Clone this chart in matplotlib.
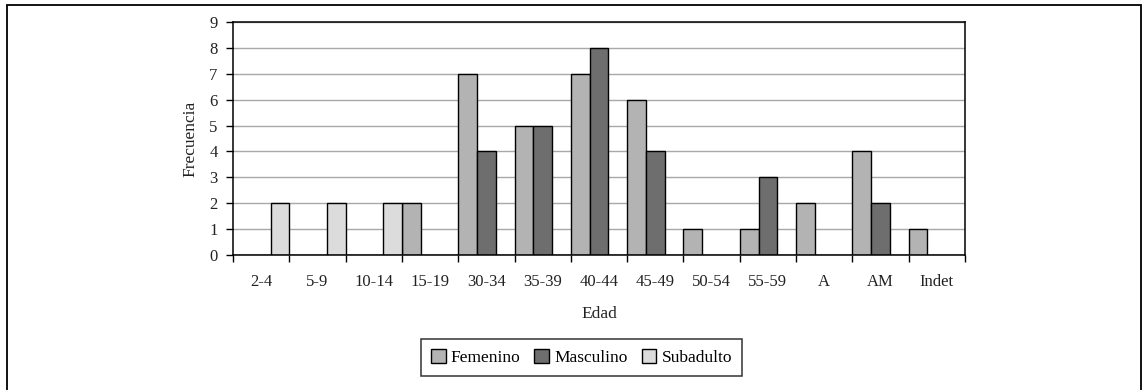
import numpy as np
import matplotlib
matplotlib.use("Agg")
import matplotlib.pyplot as plt
from matplotlib.patches import Rectangle

plt.rcParams['font.family'] = ['Liberation Serif', 'DejaVu Serif']

edades = ["2-4", "5-9", "10-14", "15-19", "30-34", "35-39", "40-44",
          "45-49", "50-54", "55-59", "A", "AM", "Indet"]
femenino = [0, 0, 0, 2, 7, 5, 7, 6, 1, 1, 2, 4, 1]
masculino = [0, 0, 0, 0, 4, 5, 8, 4, 0, 3, 0, 2, 0]
subadulto = [2, 2, 2, 0, 0, 0, 0, 0, 0, 0, 0, 0, 0]

series = [("Femenino", femenino, "#b3b3b3"),
          ("Masculino", masculino, "#6e6e6e"),
          ("Subadulto", subadulto, "#dcdcdc")]

fig = plt.figure(figsize=(11.45, 3.9), dpi=100)
ax = fig.add_axes([233/1145, 1-255/390, 732/1145, 233/390])

x = np.arange(len(edades))
w = 1/3
for k, (nombre, vals, col) in enumerate(series):
    ax.bar(x + k*w, vals, width=w, align='edge', color=col,
           edgecolor='black', linewidth=1, label=nombre, zorder=3)

ax.set_xlim(0, len(edades))
ax.set_ylim(0, 9)
ax.set_yticks(range(10))
ax.yaxis.grid(True, color='#a8a8a8', linewidth=1, zorder=0)

# ticks on category boundaries, labels at centres
ax.set_xticks(np.arange(len(edades)+1))
ax.set_xticklabels([])
ax.set_xticks(x + 0.5, minor=True)
ax.set_xticklabels(edades, minor=True)
ax.tick_params(axis='x', which='major', length=5, width=1, direction='out')
ax.tick_params(axis='x', which='minor', length=0, pad=14, labelsize=12,
               labelcolor='#222222')
ax.tick_params(axis='y', length=5, width=1, direction='out', pad=6,
               labelsize=12, labelcolor='#222222')
for s in ax.spines.values():
    s.set_linewidth(1.1)
    s.set_zorder(4)

ax.set_xlabel("Edad", fontsize=12.5, color='#222222', labelpad=11)
ax.set_ylabel("Frecuencia", fontsize=12.5, color='#222222', labelpad=8)

leg = fig.legend(loc='center', bbox_to_anchor=(581.5/1145, 1-357.5/390),
                 ncol=3, fontsize=12.5, frameon=True, fancybox=False,
                 edgecolor='black', handlelength=0.85, handleheight=0.85,
                 handletextpad=0.3, columnspacing=0.8, borderpad=0.55)
leg.get_frame().set_linewidth(1.1)

# outer frame around the whole chart
fig.patches.append(Rectangle((7/1145, -0.1), 1134/1145, 1.1 - 5/390,
                             transform=fig.transFigure, fill=False,
                             edgecolor='black', linewidth=1.3))

fig.savefig("out.png", dpi=100)
